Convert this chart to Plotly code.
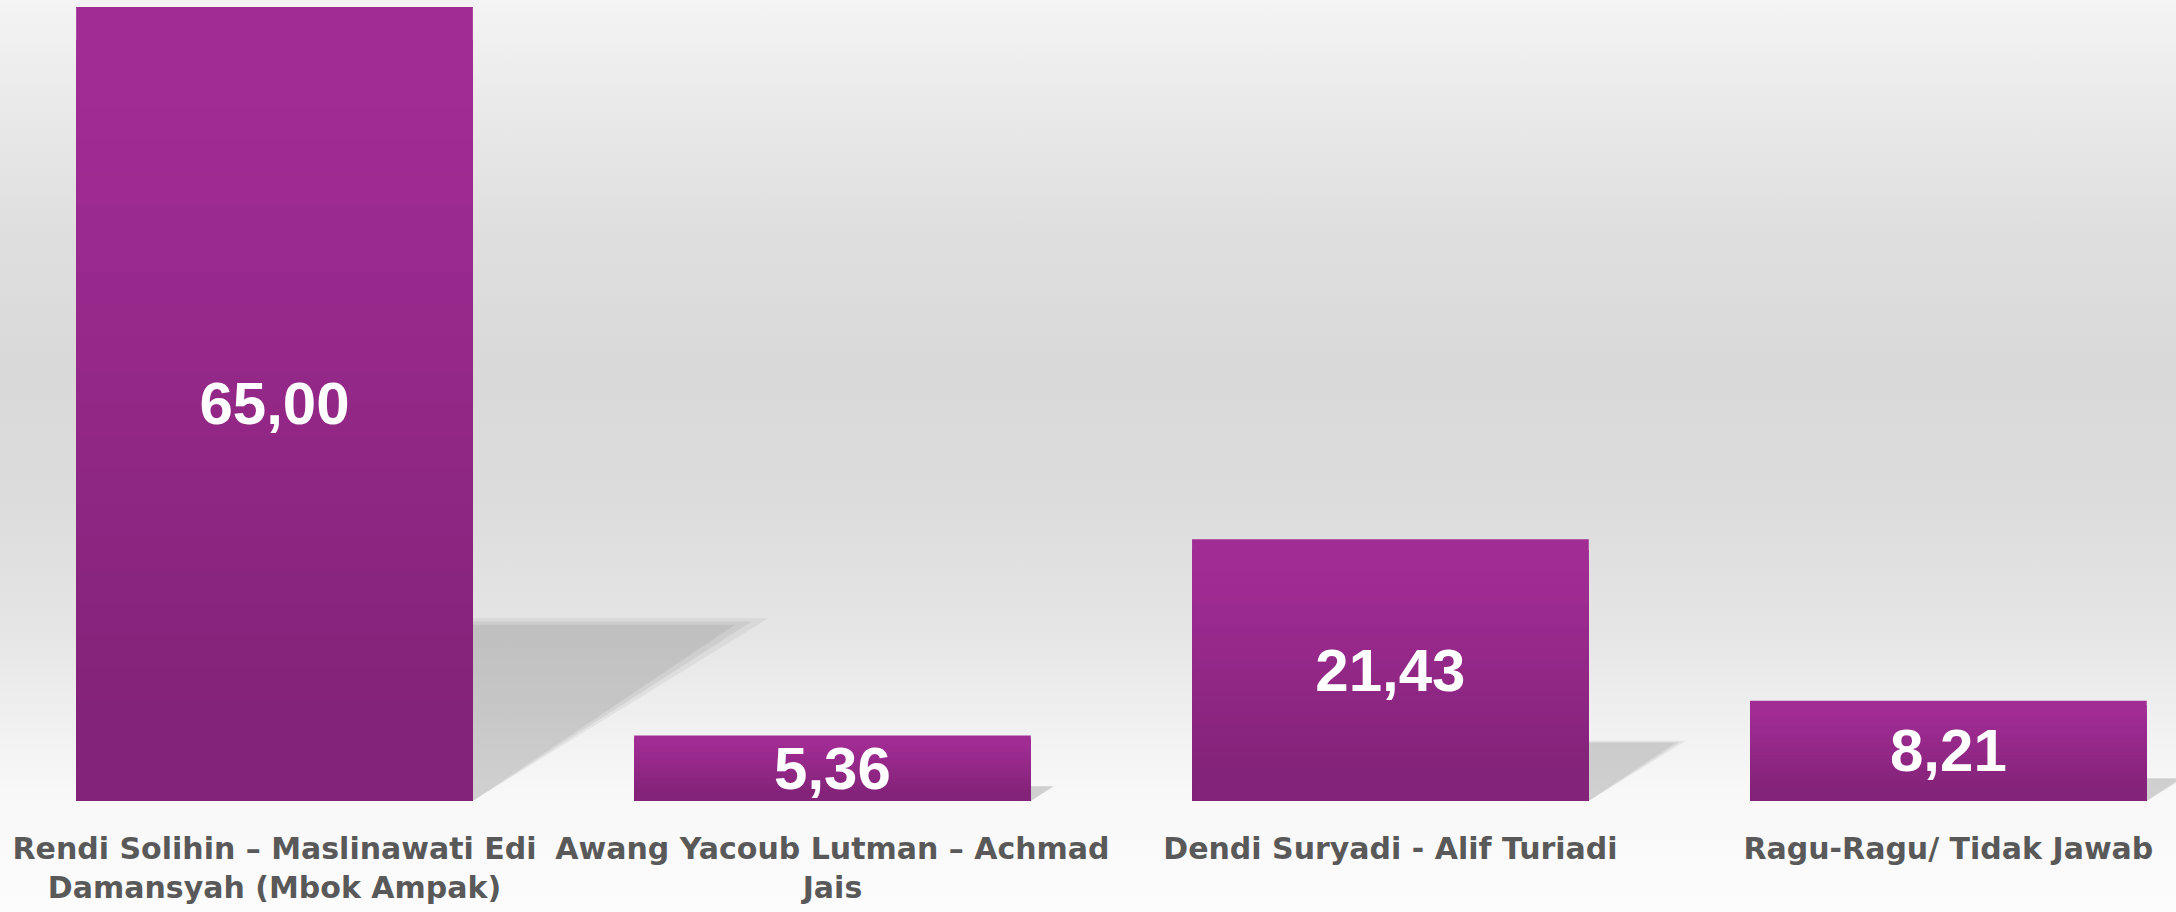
import base64
import plotly.graph_objects as go

categories = [
    "Rendi Solihin – Maslinawati Edi<br>Damansyah (Mbok Ampak)",
    "Awang Yacoub Lutman – Achmad<br>Jais",
    "Dendi Suryadi - Alif Turiadi",
    "Ragu-Ragu/ Tidak Jawab",
]
values = [65.00, 5.36, 21.43, 8.21]
labels = [f"{v:.2f}".replace(".", ",") for v in values]

W, H = 2176, 912
BAR_W = 0.711
TOP_C = (0xA1, 0x2C, 0x94)
BOT_C = (0x84, 0x23, 0x7A)

xs = list(range(len(values)))


def mix(a, b, t):
    return "rgb(%d,%d,%d)" % tuple(round(a[i] + (b[i] - a[i]) * t) for i in range(3))


fig = go.Figure()

# gradient bars: overlay progressively shorter, darker bars
N = 24
for k in range(N):
    f = (k + 0.5) / N
    t = min(max((f - 0.12) / (0.75), 0), 1)
    fig.add_trace(go.Bar(
        x=xs, y=[v * (1 - k / N) for v in values], width=BAR_W,
        marker=dict(color=mix(TOP_C, BOT_C, t), line=dict(width=0)),
        hoverinfo="skip", showlegend=False,
    ))

# text trace
fig.add_trace(go.Bar(
    x=xs, y=values, width=BAR_W, text=labels,
    textposition="inside", insidetextanchor="middle", textangle=0,
    constraintext="none",
    textfont=dict(family="Liberation Sans, Arial", size=60, color="white", weight="bold"),
    marker=dict(color="rgba(0,0,0,0)", line=dict(width=0)),
    showlegend=False,
))

# perspective shadows to the right of each bar
shapes = []
for i, v in enumerate(values):
    r = i + BAR_W / 2
    dx = 0.00769 * v
    dy = 0.226 * v
    for grow, alpha in [(1.06, 0.05), (1.0, 0.06), (0.94, 0.06)]:
        hy = dy * (1 + (grow - 1) * 0.3)
        path = f"M {r},0 L {r + dx * grow},{hy} L {r},{hy} Z"
        shapes.append(dict(type="path", path=path, xref="x", yref="y",
                           fillcolor=f"rgba(0,0,0,{alpha})", line=dict(width=0),
                           layer="below"))

# background gradient
stops = [(0, "#f4f4f4"), (0.1, "#ebebeb"), (0.25, "#dfdfdf"), (0.4, "#d9d9d9"),
         (0.55, "#dcdcdc"), (0.7, "#e6e6e6"), (0.79, "#f0f0f0"), (0.87, "#f8f8f8"),
         (1, "#fcfcfc")]
svg = ('<svg xmlns="http://www.w3.org/2000/svg" width="100" height="100" preserveAspectRatio="none">'
       '<defs><linearGradient id="g" x1="0" y1="0" x2="0" y2="1">'
       + "".join(f'<stop offset="{o}" stop-color="{c}"/>' for o, c in stops)
       + '</linearGradient></defs><rect width="100" height="100" fill="url(#g)"/></svg>')
src = "data:image/svg+xml;base64," + base64.b64encode(svg.encode()).decode()

MB = 111
plot_h = H - MB
fig.update_layout(
    width=W, height=H,
    margin=dict(l=0, r=0, t=0, b=MB),
    barmode="overlay",
    paper_bgcolor="#fbfbfb",
    plot_bgcolor="rgba(0,0,0,0)",
    shapes=shapes,
    images=[dict(source=src, xref="paper", yref="paper", x=0, y=1,
                 sizex=1, sizey=H / plot_h, sizing="stretch",
                 xanchor="left", yanchor="top", layer="below")],
    xaxis=dict(range=[-0.492, 3.408], tickvals=xs, ticktext=categories,
               showgrid=False, zeroline=False, showline=False, ticks="",
               ticklabelstandoff=27,
               tickfont=dict(family="DejaVu Sans", size=30, color="#595959", weight="bold")),
    yaxis=dict(range=[0, 65.57], visible=False, showgrid=False, zeroline=False),
)

fig.write_html("out.html", config={"displayModeBar": False},
               post_script="document.body.style.margin='0';document.body.style.overflow='hidden';")
